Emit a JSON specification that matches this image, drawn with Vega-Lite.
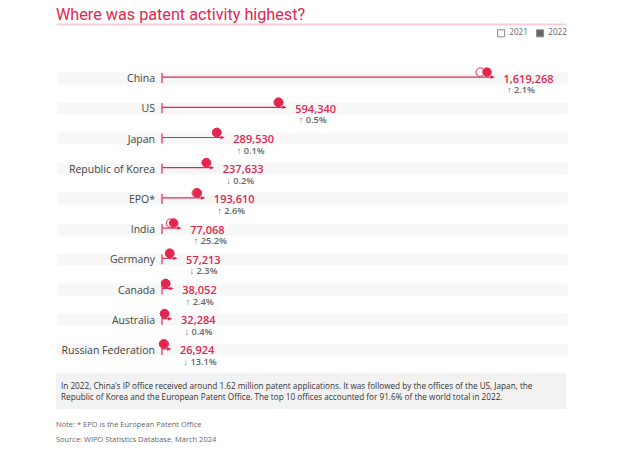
{
  "$schema": "https://vega.github.io/schema/vega-lite/v6.json",
  "padding": {"left": 56, "top": 6, "right": 20, "bottom": 10},
  "background": "white",
  "bounds": "flush",
  "spacing": 9,
  "resolve": {"scale": {"color": "independent"}, "legend": {"color": "independent"}},
  "title": {"text": "Where was patent activity highest?", "anchor": "start", "font": "Roboto", "fontSize": 16.2, "fontWeight": "normal", "color": "#e3264f", "offset": 1},
  "config": {"view": {"stroke": null}, "font": "Open Sans"},
  "datasets": {
    "offices": [
      {"office": "China", "2021": 1585663, "2022": 1619268, "change": "↑ 2.1%"},
      {"office": "US", "2021": 591473, "2022": 594340, "change": "↑ 0.5%"},
      {"office": "Japan", "2021": 289200, "2022": 289530, "change": "↑ 0.1%"},
      {"office": "Republic of Korea", "2021": 237998, "2022": 237633, "change": "↓ 0.2%"},
      {"office": "EPO*", "2021": 188778, "2022": 193610, "change": "↑ 2.6%"},
      {"office": "India", "2021": 61573, "2022": 77068, "change": "↑ 25.2%"},
      {"office": "Germany", "2021": 58568, "2022": 57213, "change": "↓ 2.3%"},
      {"office": "Canada", "2021": 37155, "2022": 38052, "change": "↑ 2.4%"},
      {"office": "Australia", "2021": 32418, "2022": 32284, "change": "↓ 0.4%"},
      {"office": "Russian Federation", "2021": 30977, "2022": 26924, "change": "↓ 13.1%"}
    ],
    "summary": [
      {"text": "In 2022, China’s IP office received around 1.62 million patent applications. It was followed by the offices of the US, Japan, the\nRepublic of Korea and the European Patent Office. The top 10 offices accounted for 91.6% of the world total in 2022."}
    ],
    "footnotes": [
      {"text": "Note: * EPO is the European Patent Office\nSource: WIPO Statistics Database, March 2024"}
    ]
  },
  "vconcat": [
    {
      "width": 510,
      "height": 29,
      "data": {"name": "offices"},
      "transform": [{"fold": ["2021", "2022"], "as": ["year", "count"]}],
      "mark": {"type": "point", "filled": true, "size": 0, "stroke": "#888888", "strokeWidth": 1, "opacity": 1},
      "encoding": {
        "x": {"field": "count", "type": "quantitative",
          "axis": {"orient": "top", "domain": true, "domainColor": "#f9cdd7", "domainWidth": 2, "labels": false, "ticks": false, "grid": false, "title": null}},
        "color": {"field": "year", "type": "nominal", "scale": {"domain": ["2021", "2022"], "range": ["#ffffff", "#666666"]},
          "legend": {"orient": "none", "legendX": 441, "legendY": 5, "direction": "horizontal", "title": null,
            "symbolType": "square", "symbolSize": 49, "labelFont": "Open Sans", "labelFontSize": 8.2, "labelColor": "#666666",
            "labelOffset": 4, "columnPadding": 6, "symbolStrokeWidth": 1, "symbolOpacity": 1}}
      }
    },
    {
      "width": 510,
      "height": 302,
      "data": {"name": "offices"},
      "encoding": {
        "y": {"field": "office", "type": "nominal", "sort": null, "scale": {"paddingInner": 0, "paddingOuter": 0},
          "axis": {"labels": false, "ticks": false, "domain": false, "title": null, "grid": true, "gridColor": "#f7f7f7", "gridWidth": 12, "bandPosition": 0.5, "translate": 1.5}}
      },
      "layer": [
        {
          "mark": {"type": "bar", "height": 1.2, "color": "#e3264f", "xOffset": 2},
          "encoding": {
            "x": {"field": "2022", "type": "quantitative", "stack": null,
              "scale": {"domain": [-521650, 1988200], "zero": false, "nice": false}, "axis": null}
          }
        },
        {
          "mark": {"type": "tick", "color": "#e8506f", "size": 10, "thickness": 1.5, "yOffset": 1, "opacity": 1},
          "encoding": {"x": {"datum": 0, "type": "quantitative", "axis": null}}
        },
        {
          "mark": {"type": "point", "shape": "M-1,-0.8L1,0L-1,0.8Z", "filled": true, "size": 20, "color": "#e3264f", "xOffset": 1.8, "opacity": 1},
          "encoding": {"x": {"field": "2022", "type": "quantitative", "axis": null}}
        },
        {
          "transform": [{"fold": ["2021", "2022"], "as": ["year", "count"]}],
          "mark": {"type": "point", "filled": true, "size": 72, "stroke": "#e3264f", "strokeWidth": 1, "opacity": 1, "xOffset": -4, "yOffset": -5},
          "encoding": {
            "x": {"field": "count", "type": "quantitative", "axis": null},
            "fill": {"field": "year", "type": "nominal", "scale": {"domain": ["2021", "2022"], "range": ["#ffffff", "#e3264f"]}, "legend": null}
          }
        },
        {
          "mark": {"type": "text", "align": "right", "baseline": "middle", "dx": -7, "dy": 2, "fontSize": 10.5, "color": "#444444"},
          "encoding": {"x": {"datum": 0, "type": "quantitative", "axis": null}, "text": {"field": "office", "type": "nominal"}}
        },
        {
          "mark": {"type": "text", "align": "left", "baseline": "middle", "dx": 12.5, "dy": 2.5, "fontSize": 11, "fontWeight": 600, "color": "#e3264f"},
          "encoding": {"x": {"field": "2022", "type": "quantitative", "axis": null}, "text": {"field": "2022", "type": "quantitative", "format": ","}}
        },
        {
          "mark": {"type": "text", "align": "left", "baseline": "middle", "dx": 16, "dy": 13, "fontSize": 9.2, "fontWeight": 600, "color": "#666666"},
          "encoding": {"x": {"field": "2022", "type": "quantitative", "axis": null}, "text": {"field": "change", "type": "nominal"}}
        }
      ]
    },
    {
      "width": 510,
      "height": 36,
      "view": {"fill": "#f2f2f2", "stroke": null},
      "data": {"name": "summary"},
      "mark": {"type": "text", "align": "left", "baseline": "middle", "dx": 5, "dy": -4, "lineBreak": "\n", "lineHeight": 10.9, "fontSize": 8.2, "color": "#333333"},
      "encoding": {
        "x": {"datum": 0, "type": "quantitative", "scale": {"domain": [0, 1]}, "axis": null},
        "text": {"field": "text", "type": "nominal"}
      }
    },
    {
      "width": 510,
      "height": 14,
      "data": {"name": "footnotes"},
      "mark": {"type": "text", "align": "left", "baseline": "middle", "dy": 0, "lineBreak": "\n", "lineHeight": 15, "fontSize": 7.5, "color": "#666666"},
      "encoding": {
        "x": {"datum": 0, "type": "quantitative", "scale": {"domain": [0, 1]}, "axis": null},
        "text": {"field": "text", "type": "nominal"}
      }
    }
  ]
}
